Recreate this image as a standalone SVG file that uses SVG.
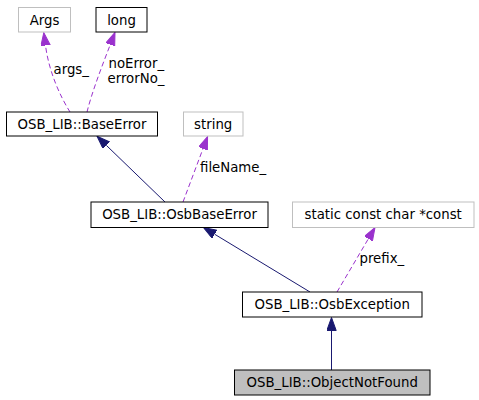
<svg xmlns="http://www.w3.org/2000/svg" width="479" height="400" viewBox="0 0 479 400">
<style>
text{font-family:"DejaVu Sans","Liberation Sans",sans-serif;font-size:13.3px;fill:#000}
.n text{text-anchor:middle}
.b{fill:#fff;stroke:#000;stroke-width:1}
.g{fill:#fff;stroke:#bfbfbf;stroke-width:1}
.f{fill:#bfbfbf;stroke:#000;stroke-width:1}
.inh{fill:none;stroke:#191970;stroke-width:1;marker-end:url(#an)}
.use{fill:none;stroke:#9a32cd;stroke-width:1;stroke-dasharray:5,3;marker-end:url(#ap)}
</style>
<defs>
<marker id="an" markerUnits="userSpaceOnUse" markerWidth="14" markerHeight="10" refX="0" refY="4.7" orient="auto" viewBox="0 0 14 10">
<path d="M0,0 L13,4.7 L0,9.4 Z" fill="#191970" stroke="#191970" stroke-width="1"/>
</marker>
<marker id="ap" markerUnits="userSpaceOnUse" markerWidth="14" markerHeight="10" refX="0" refY="4.7" orient="auto" viewBox="0 0 14 10">
<path d="M0,0 L13,4.7 L0,9.4 Z" fill="#9a32cd" stroke="#9a32cd" stroke-width="1"/>
</marker>
</defs>
<rect width="479" height="400" fill="#fff"/>
<g id="edges">
<path class="use" d="M70,112 C60,96 49,72 45.5,45.5"/>
<path class="use" d="M87,112 C92,92 102,66 110.3,44.6"/>
<path class="inh" d="M165,202 L106.4,145.4"/>
<path class="use" d="M183,202 L203,148.7"/>
<path class="inh" d="M310,292 L214.6,234.2"/>
<path class="use" d="M337,292 L368.4,238.7"/>
<path class="inh" d="M331.5,370 L331.5,330.5"/>
<text x="53.5" y="74.3">args_</text>
<text x="108.5" y="68.3">noError_</text>
<text x="107.5" y="82.7">errorNo_</text>
<text x="200" y="171.7">fileName_</text>
<text x="359.5" y="262.7">prefix_</text>
</g>
<g id="Args" class="n"><rect class="g" x="18.5" y="7.5" width="52" height="24.5"/><text x="44.5" y="24.5">Args</text></g>
<g id="long" class="n"><rect class="b" x="96" y="7.5" width="51" height="24.5"/><text x="121.5" y="24.5">long</text></g>
<g id="BaseError" class="n"><rect class="b" x="6.5" y="112" width="151" height="24"/><text x="82" y="128.5">OSB_LIB::BaseError</text></g>
<g id="string" class="n"><rect class="g" x="183.5" y="112" width="59.5" height="24"/><text x="213.2" y="128.5">string</text></g>
<g id="OsbBaseError" class="n"><rect class="b" x="91" y="202" width="177" height="25.5"/><text x="179.5" y="219.2">OSB_LIB::OsbBaseError</text></g>
<g id="staticconst" class="n"><rect class="g" x="292.5" y="202" width="181.5" height="25.5"/><text x="383.2" y="219.2">static const char *const</text></g>
<g id="OsbException" class="n"><rect class="b" x="242.5" y="292" width="179.5" height="25"/><text x="332.2" y="309">OSB_LIB::OsbException</text></g>
<g id="ObjectNotFound" class="n"><rect class="f" x="234.5" y="370" width="195.5" height="25"/><text x="332.2" y="387">OSB_LIB::ObjectNotFound</text></g>
</svg>
